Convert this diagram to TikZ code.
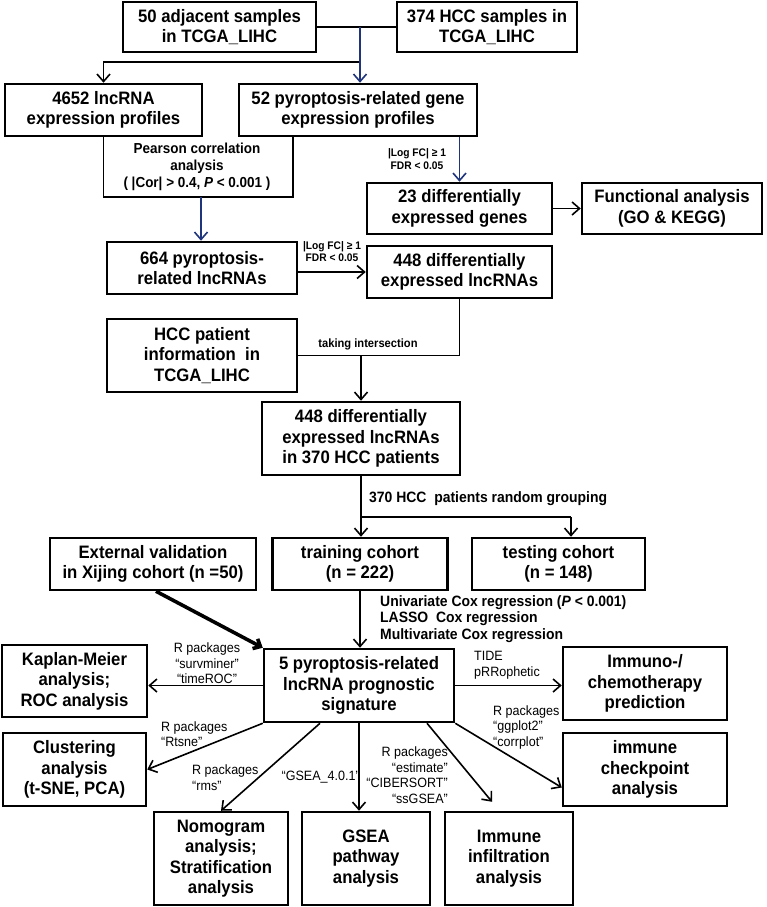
\documentclass[tikz,border=0pt]{standalone}
\usepackage{fontspec}
\setmainfont{Liberation Sans}[FakeStretch=0.93]
\usetikzlibrary{arrows.meta,calc}
\definecolor{navy}{RGB}{30,52,125}
\begin{document}
\begin{tikzpicture}[x=1pt,y=-1pt,
  box/.style={draw, line width=2.5pt, align=center, inner sep=0pt,
    font=\bfseries\fontsize{18}{20.5}\selectfont},
  ln/.style={line width=1.6pt},
  conn/.style={line width=1.6pt, -{Straight Barb[length=7.5pt,width=13pt]}},
  bconn/.style={conn, draw=navy},
  thickconn/.style={line width=3.6pt, -{Straight Barb[length=6pt,width=11pt]}},
  lab/.style={inner sep=0pt, font=\fontsize{13.5}{15.5}\selectfont},
  blab/.style={inner sep=0pt, font=\bfseries\fontsize{15}{16.5}\selectfont},
  slab/.style={inner sep=0pt, font=\bfseries\fontsize{11}{12.5}\selectfont}]
\useasboundingbox[fill=white] (0,0) rectangle (767,907);

% boxes
\node[box, minimum width=193pt, minimum height=50pt] (A) at (219.5,27) {50 adjacent samples\\in TCGA\_LIHC};
\node[box, minimum width=180pt, minimum height=50pt] (B) at (487,27) {374 HCC samples in\\TCGA\_LIHC};
\node[box, minimum width=197pt, minimum height=52pt] (lnc) at (103.5,110) {4652 lncRNA\\expression profiles};
\node[box, minimum width=238pt, minimum height=52pt] (pg) at (358,110) {52 pyroptosis-related gene\\expression profiles};
\node[box, minimum width=185pt, minimum height=51pt] (deg) at (459.5,208.5) {23 differentially\\expressed genes};
\node[box, minimum width=180pt, minimum height=51pt] (func) at (672,208.5) {Functional analysis\\(GO \& KEGG)};
\node[box, minimum width=190pt, minimum height=52pt] (plnc) at (202,268) {664 pyroptosis-\\related lncRNAs};
\node[box, minimum width=185pt, minimum height=52pt] (del) at (459.5,272) {448 differentially\\expressed lncRNAs};
\node[box, minimum width=190pt, minimum height=73pt] (hcc) at (202,355.5) {HCC patient\\information~ in\\TCGA\_LIHC};
\node[box, minimum width=198pt, minimum height=73pt] (del370) at (361,438.5) {448 differentially\\expressed lncRNAs\\in 370 HCC patients};
\node[box, minimum width=206pt, minimum height=52pt] (ext) at (153,564) {External validation\\in Xijing cohort (n =50)};
\node[box, minimum width=175pt, minimum height=52pt] (train) at (360,564) {training cohort\\(n = 222)};
\node[box, minimum width=173pt, minimum height=52pt] (test) at (558.5,564) {testing cohort\\(n = 148)};
\node[box, minimum width=190pt, minimum height=73pt] (sig) at (359,685.5) {5 pyroptosis-related\\lncRNA prognostic\\signature};
\node[box, minimum width=145pt, minimum height=72pt] (km) at (74.5,681) {Kaplan-Meier\\analysis;\\ROC analysis};
\node[box, minimum width=164pt, minimum height=73pt] (imm) at (645,683.5) {Immuno-/\\chemotherapy\\prediction};
\node[box, minimum width=143pt, minimum height=73pt] (clus) at (74.5,769.5) {Clustering\\analysis\\(t-SNE, PCA)};
\node[box, minimum width=164pt, minimum height=73pt] (chk) at (645,769.5) {immune\\checkpoint\\analysis};
\node[box, minimum width=134pt, minimum height=93pt] (nomo) at (221,858.5) {Nomogram\\analysis;\\Stratification\\analysis};
\node[box, minimum width=128pt, minimum height=93pt] (gsea) at (366,858.5) {GSEA\\pathway\\analysis};
\node[box, minimum width=128pt, minimum height=93pt] (inf) at (509,858.5) {Immune\\infiltration\\analysis};

% junction coordinates
\coordinate (j1) at (360,27);
\coordinate (j2) at (360,62);
\coordinate (p1) at (201,197);
\coordinate (p2) at (293,197);
\coordinate (j3) at (361,355.5);
\coordinate (j4) at (361,517);
\coordinate (t1) at (571,517);
\coordinate (inftip) at ($(inf.north)+(-17,-9)$);
\coordinate (chktip) at ($(chk.west)+(0,18)$);

% connectors
\draw[ln] (A.east) -- (B.west);
\draw[conn] (j2) -| (lnc.north);
\draw[bconn] (j1) -- (j1 |- pg.north);
\draw[ln] (lnc.south) |- (p2) -- (p2 |- pg.south);
\draw[bconn] (p1) -- (p1 |- plnc.north);
\draw[bconn] (deg.north |- pg.south) -- (deg.north);
\draw[conn] (deg.east) -- (func.west);
\draw[conn] (plnc.east |- del.west) -- (del.west);
\draw[ln] (del.south) |- (hcc.east);
\draw[conn] (j3) -- (j3 |- del370.north);
\draw[ln] (del370.south) -- (j4) -- (t1);
\draw[conn] (j4) -- (j4 |- train.north);
\draw[conn] (t1) -- (t1 |- test.north);
\draw[conn] (train.south) -- (train.south |- sig.north);
\draw[thickconn] ($(ext.south)+(3,0)$) -- (sig.north west);
\draw[conn] (sig.west) -- (sig.west -| km.east);
\draw[conn] (sig.east) -- (sig.east -| imm.west);
\draw[conn] (sig.south west) -- (clus.east);
\draw[conn] ($(sig.south)+(-39,0)$) -- (nomo.north);
\draw[conn] (sig.south) -- (sig.south |- gsea.north);
\draw[conn] ($(sig.south)+(68,0)$) -- (inftip);
\draw[conn] (sig.south east) -- (chktip);

% labels
\node[blab, align=center, font=\bfseries\fontsize{14.5}{17}\selectfont] (pear) at (197,167) {Pearson correlation\\analysis\\( |Cor| > 0.4, \textit{P} < 0.001 )};
\node[slab, align=center] (lfc1) at (417,159) {|Log FC| ≥ 1\\FDR < 0.05};
\node[slab, align=center] (lfc2) at (332,251.5) {|Log FC| ≥ 1\\FDR < 0.05};
\node[slab, font=\bfseries\fontsize{12}{13}\selectfont] (inter) at (368,344) {taking intersection};
\node[blab, anchor=west] (grp) at (369,499) {370 HCC~ patients random grouping};
\node[blab, anchor=west, align=left] (cox) at (380,619) {Univariate Cox regression (\textit{P} < 0.001)\\LASSO~ Cox regression\\Multivariate Cox regression};
\node[lab, align=center] (lkm) at (207,663.5) {R packages\\“survminer”\\“timeROC”};
\node[lab, anchor=west, align=left] (ltide) at (474,665) {TIDE\\pRRophetic};
\node[lab, anchor=west, align=left] (lclus) at (161,734) {R packages\\“Rtsne”};
\node[lab, anchor=west, align=left] (lrms) at (192,777.5) {R packages\\“rms”};
\node[lab, anchor=east] (lgsea) at (360,777) {“GSEA\_4.0.1”};
\node[lab, anchor=east, align=right] (linf) at (448,775) {R packages\\“estimate”\\“CIBERSORT”\\“ssGSEA”};
\node[lab, anchor=west, align=left] (lchk) at (493,727) {R packages\\“ggplot2”\\“corrplot”};
\end{tikzpicture}
\end{document}
